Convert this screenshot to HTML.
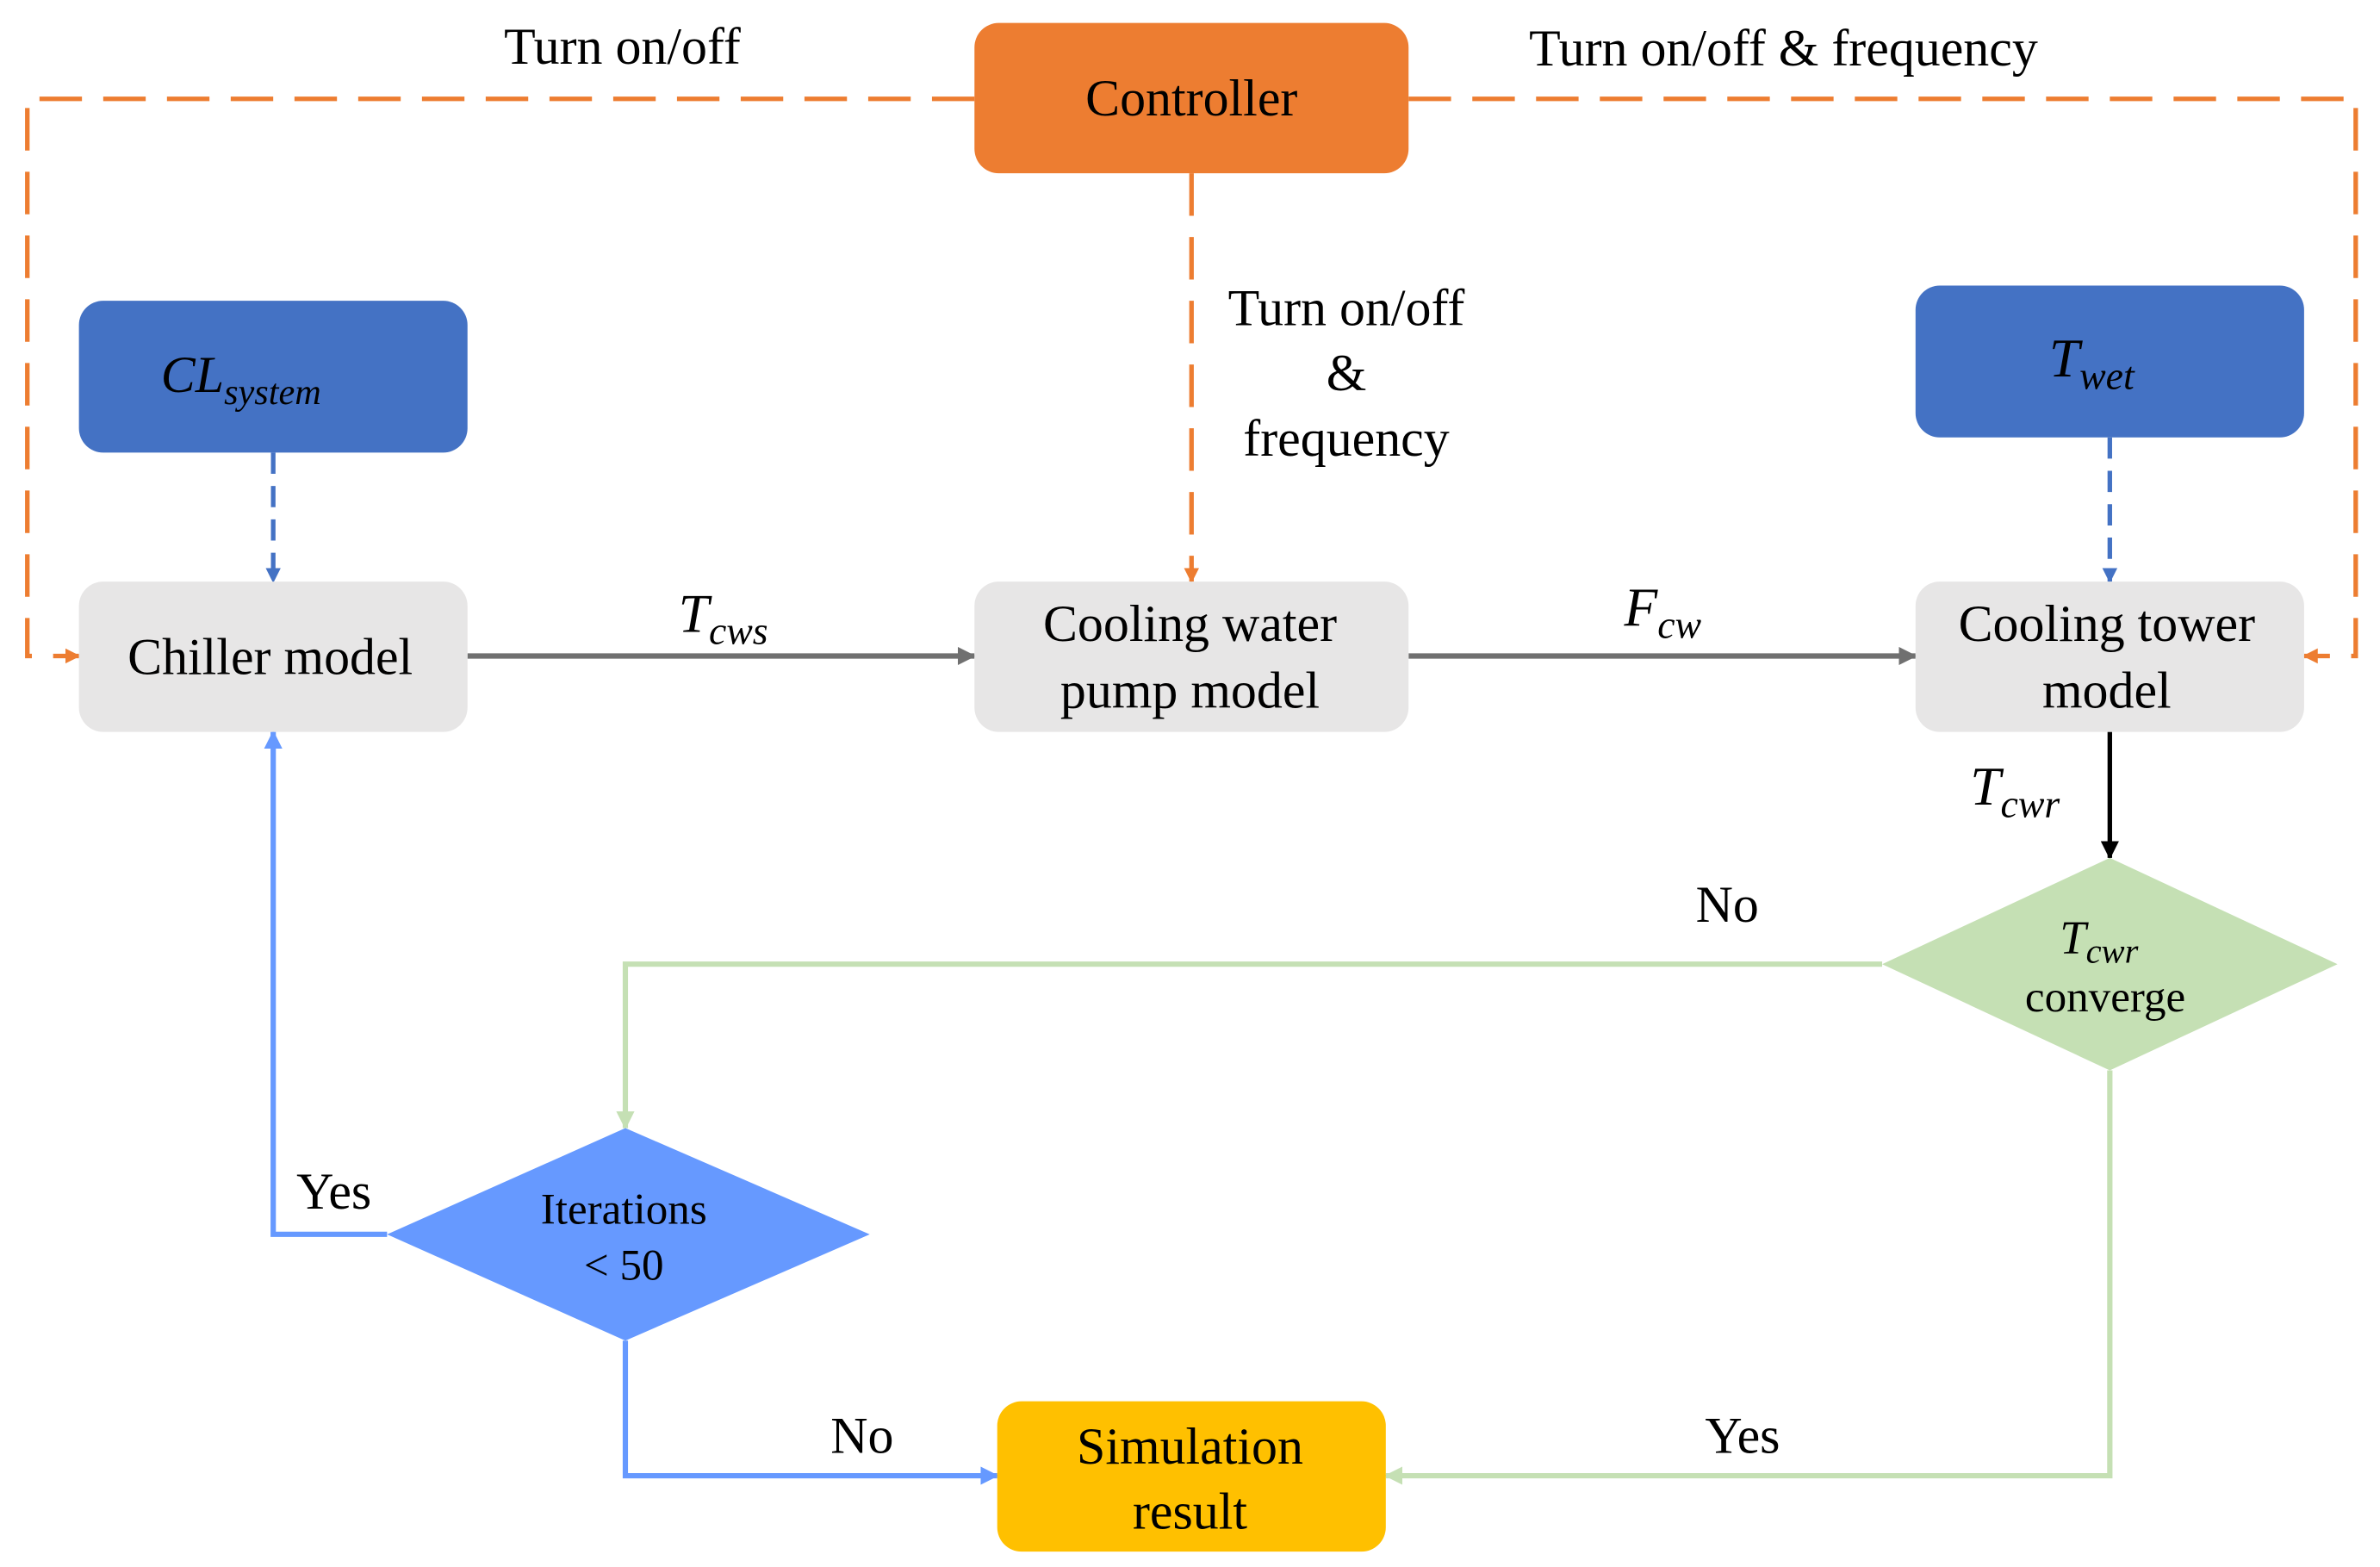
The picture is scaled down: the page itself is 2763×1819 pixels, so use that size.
<!DOCTYPE html>
<html><head><meta charset="utf-8"><style>
html,body{margin:0;padding:0;background:#fff}
svg{display:block}
text{font-family:"Liberation Serif",serif;fill:#000}
</style></head><body>
<svg width="2763" height="1819" viewBox="0 0 1568 1032" xmlns="http://www.w3.org/2000/svg">
<defs>
<marker id="ao" markerWidth="10" markerHeight="10" refX="9" refY="5" orient="auto" markerUnits="userSpaceOnUse"><path d="M0,0 L10,5 L0,10 z" fill="#ED7D31"/></marker>
<marker id="ab" markerWidth="10" markerHeight="10" refX="9" refY="5" orient="auto" markerUnits="userSpaceOnUse"><path d="M0,0 L10,5 L0,10 z" fill="#4472C4"/></marker>
<marker id="ag" markerWidth="12" markerHeight="12" refX="11" refY="6" orient="auto" markerUnits="userSpaceOnUse"><path d="M0,0 L12,6 L0,12 z" fill="#707070"/></marker>
<marker id="ak" markerWidth="12" markerHeight="12" refX="11" refY="6" orient="auto" markerUnits="userSpaceOnUse"><path d="M0,0 L12,6 L0,12 z" fill="#000"/></marker>
<marker id="agr" markerWidth="12" markerHeight="12" refX="11" refY="6" orient="auto" markerUnits="userSpaceOnUse"><path d="M0,0 L12,6 L0,12 z" fill="#C5E0B4"/></marker>
<marker id="abl" markerWidth="12" markerHeight="12" refX="11" refY="6" orient="auto" markerUnits="userSpaceOnUse"><path d="M0,0 L12,6 L0,12 z" fill="#6699FF"/></marker>
</defs>
<g stroke="#ED7D31" stroke-width="3" fill="none" stroke-dasharray="28,14">
<path d="M642,65 L18,65 L18,432 L52,432" marker-end="url(#ao)"/>
<path d="M928,65 L1552,65 L1552,432 L1518,432" marker-end="url(#ao)"/>
<path d="M785,114 L785,383" marker-end="url(#ao)"/>
</g>
<g stroke="#4472C4" stroke-width="3" fill="none" stroke-dasharray="14,8">
<path d="M180,298 L180,383" marker-end="url(#ab)"/>
<path d="M1390,288 L1390,383" marker-end="url(#ab)"/>
</g>
<g stroke="#707070" stroke-width="3.5" fill="none">
<path d="M308,432 L642,432" marker-end="url(#ag)"/>
<path d="M928,432 L1262,432" marker-end="url(#ag)"/>
</g>
<path d="M1390,482 L1390,565" stroke="#000" stroke-width="3" marker-end="url(#ak)"/>
<g stroke="#C5E0B4" stroke-width="3.5" fill="none">
<path d="M1240,635 L412,635 L412,743" marker-end="url(#agr)"/>
<path d="M1390,705 L1390,972 L913,972" marker-end="url(#agr)"/>
</g>
<g stroke="#6699FF" stroke-width="3.5" fill="none">
<path d="M255,813 L180,813 L180,482" marker-end="url(#abl)"/>
<path d="M412,883 L412,972 L657,972" marker-end="url(#abl)"/>
</g>
<rect x="642" y="15" width="286" height="99" rx="16" fill="#ED7D31"/>
<rect x="52" y="198" width="256" height="100" rx="16" fill="#4472C4"/>
<rect x="1262" y="188" width="256" height="100" rx="16" fill="#4472C4"/>
<rect x="52" y="383" width="256" height="99" rx="16" fill="#E7E6E6"/>
<rect x="642" y="383" width="286" height="99" rx="16" fill="#E7E6E6"/>
<rect x="1262" y="383" width="256" height="99" rx="16" fill="#E7E6E6"/>
<rect x="657" y="923" width="256" height="99" rx="16" fill="#FFC000"/>
<polygon points="1240,635 1390,565 1540,635 1390,705" fill="#C5E0B4"/>
<polygon points="255,813 412,743 573,813 412,883" fill="#6699FF"/>
<g font-size="34" text-anchor="middle">
<text x="785" y="76">Controller</text>
<text x="410" y="42">Turn on/off</text>
<text x="1175" y="43">Turn on/off &amp; frequency</text>
<text x="887" y="214">Turn on/off</text>
<text x="887" y="257">&amp;</text>
<text x="887" y="300">frequency</text>
<text x="178" y="444">Chiller model</text>
<text x="784" y="422">Cooling water</text>
<text x="784" y="466">pump model</text>
<text x="1388" y="422">Cooling tower</text>
<text x="1388" y="466">model</text>
<text x="784" y="964">Simulation</text>
<text x="784" y="1007">result</text>
<text x="1138" y="607">No</text>
<text x="220" y="796">Yes</text>
<text x="568" y="957">No</text>
<text x="1148" y="957">Yes</text>
</g>
<g font-size="29" text-anchor="middle">
<text x="411" y="806">Iterations</text>
<text x="411" y="843">&lt; 50</text>
<text x="1387" y="666">converge</text>
</g>
<g font-style="italic">
<text x="106" y="258" font-size="34" font-family="DejaVu Serif,serif">CL<tspan font-size="24" dy="8">system</tspan></text>
<text x="1350" y="248" font-size="36">T<tspan font-size="26" dy="8">wet</tspan></text>
<text x="447" y="416" font-size="36">T<tspan font-size="26" dy="8">cws</tspan></text>
<text x="1070" y="412" font-size="36">F<tspan font-size="26" dy="8">cw</tspan></text>
<text x="1298" y="530" font-size="36">T<tspan font-size="26" dy="8">cwr</tspan></text>
<text x="1357" y="628" font-size="31">T<tspan font-size="23" dy="6">cwr</tspan></text>
</g>
</svg>
</body></html>
